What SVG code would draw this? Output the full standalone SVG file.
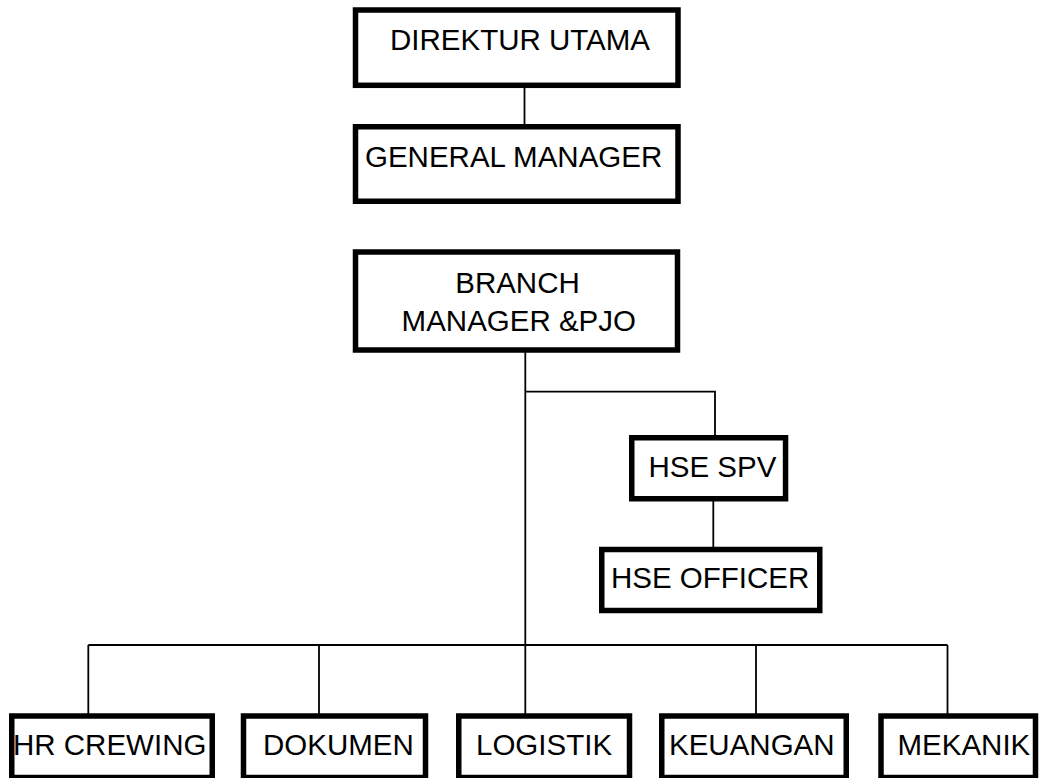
<svg xmlns="http://www.w3.org/2000/svg" width="1041" height="778" viewBox="0 0 1041 778">
  <style>
    .box { fill: #ffffff; stroke: #000000; stroke-width: 5.5; }
    .lbl { font-family: "Liberation Sans", Arial, sans-serif; font-size: 29.5px; fill: #000000; }
    .conn { fill: none; stroke: #000000; stroke-width: 1.8; }
  </style>
  <rect x="0" y="0" width="1041" height="778" fill="#ffffff"/>
  <g id="connectors">
    <line class="conn" x1="524.5" y1="87" x2="524.5" y2="125"/>
    <line class="conn" x1="525.3" y1="352" x2="525.3" y2="714"/>
    <polyline class="conn" points="525.3,391.7 715,391.7 715,436"/>
    <line class="conn" x1="713.3" y1="500" x2="713.3" y2="548"/>
    <line class="conn" x1="88.3" y1="645" x2="947.5" y2="645"/>
    <line class="conn" x1="88.3" y1="645" x2="88.3" y2="714"/>
    <line class="conn" x1="319" y1="645" x2="319" y2="714"/>
    <line class="conn" x1="756" y1="645" x2="756" y2="714"/>
    <line class="conn" x1="947.5" y1="645" x2="947.5" y2="714"/>
  </g>
  <g id="direktur-utama">
    <rect class="box" x="355.5" y="10" width="322.5" height="75.3"/>
    <text class="lbl" x="390" y="50">DIREKTUR UTAMA</text>
  </g>
  <g id="general-manager">
    <rect class="box" x="355.5" y="126.75" width="322.5" height="74.5"/>
    <text class="lbl" x="365" y="166.7">GENERAL MANAGER</text>
  </g>
  <g id="branch-manager">
    <rect class="box" x="355.5" y="252" width="322" height="98"/>
    <text class="lbl" x="517.5" y="293.3" text-anchor="middle">BRANCH</text>
    <text class="lbl" x="518.8" y="330.7" text-anchor="middle">MANAGER &amp;PJO</text>
  </g>
  <g id="hse-spv">
    <rect class="box" x="631.75" y="437.75" width="153.8" height="61"/>
    <text class="lbl" x="648.5" y="477.3">HSE SPV</text>
  </g>
  <g id="hse-officer">
    <rect class="box" x="601.75" y="549.5" width="218" height="61"/>
    <text class="lbl" x="611" y="588.3">HSE OFFICER</text>
  </g>
  <g id="hr-crewing">
    <rect class="box" x="11.75" y="716" width="200.5" height="61.5"/>
    <text class="lbl" x="13" y="755">HR CREWING</text>
  </g>
  <g id="dokumen">
    <rect class="box" x="243.5" y="716" width="182" height="61.5"/>
    <text class="lbl" x="263" y="755">DOKUMEN</text>
  </g>
  <g id="logistik">
    <rect class="box" x="458.75" y="716" width="170.75" height="61.5"/>
    <text class="lbl" x="476" y="755">LOGISTIK</text>
  </g>
  <g id="keuangan">
    <rect class="box" x="661.75" y="716" width="184.5" height="61.5"/>
    <text class="lbl" x="669" y="755">KEUANGAN</text>
  </g>
  <g id="mekanik">
    <rect class="box" x="881" y="716" width="154.5" height="61.5"/>
    <text class="lbl" x="897.5" y="755">MEKANIK</text>
  </g>
</svg>
